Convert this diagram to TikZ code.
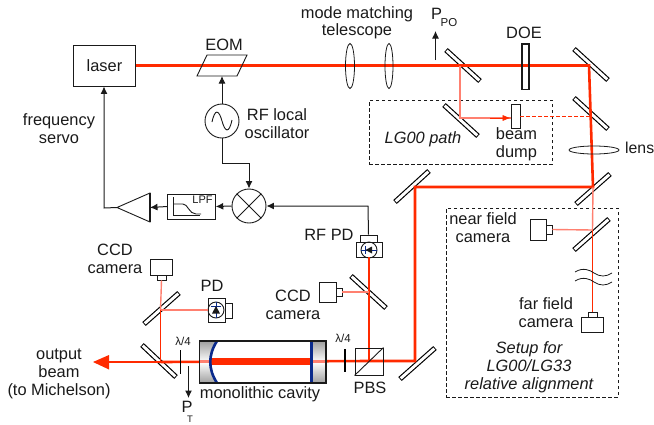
\documentclass[tikz,border=0pt]{standalone}
\usepackage{fontspec}
\setmainfont{Liberation Sans}
\usetikzlibrary{arrows.meta,shadings,shapes.geometric,calc}
\definecolor{beam}{HTML}{FF2A00}
\definecolor{pinkbeam}{HTML}{FF8070}
\definecolor{mblue}{HTML}{0A2A8C}
\definecolor{ink}{HTML}{1A1A1A}
\tikzset{
  basetxt/.style={font=\fontsize{16.4}{18}\selectfont,text=ink,align=center,inner sep=0pt},
  lbl/.style={basetxt},
  ilbl/.style={basetxt,font=\fontsize{16.4}{18}\selectfont\itshape},
  smalltxt/.style={basetxt,font=\fontsize{11.5}{13}\selectfont},
  boxn/.style={basetxt,draw=ink,line width=0.9pt,minimum width=#1},
  roundn/.style={draw=ink,line width=0.9pt,circle,inner sep=0pt,minimum size=#1},
  sig/.style={draw=ink,line width=1pt,-{Latex[length=7.5pt,width=7pt]}},
  thickbeam/.style={draw=beam,line width=2.6pt},
  thinbeam/.style={draw=pinkbeam,line width=1.4pt},
  redthin/.style={draw=beam,line width=0.9pt},
  framebox/.style={draw=ink,line width=0.9pt,dash pattern=on 3.5pt off 2.5pt},
  lensn/.style={draw=ink,line width=0.8pt},
  mirrorout/.style={draw=black,line width=5.2pt},
  mirrorin/.style={draw=white,line width=2.9pt,shorten <=0.9pt,shorten >=0.9pt},
}
\newcommand{\mirr}[4]{\draw[mirrorout] (#1,#2)--(#3,#4);\draw[mirrorin] (#1,#2)--(#3,#4);}
\begin{document}
\begin{tikzpicture}[x=1pt,y=-1pt]
\useasboundingbox (0,0) rectangle (654,424);
% dashed frames
\node[framebox,minimum width=183pt,minimum height=64pt,inner sep=0pt] (lgbox) at (460.5,132) {};
\node[framebox,minimum width=172pt,minimum height=189pt,inner sep=0pt] (setupbox) at (532,302.5) {};
% mirrors
\mirr{446}{50}{480}{81}
\mirr{574}{49}{608}{80}
\mirr{574}{98}{608}{129}
\mirr{444}{105}{478}{136}
\mirr{576}{204}{610}{174}
\mirr{395}{202}{429}{171}
\mirr{574}{250}{609}{219}
\mirr{351}{276}{386}{308}
\mirr{400}{379}{435}{348}
\mirr{142}{345}{176}{377}
\mirr{144}{324}{179}{293}
% coordinates
\coordinate (c1) at (589,65.5);
\coordinate (c2) at (593,187);
\coordinate (c3) at (415,187);
\coordinate (c4) at (415,361);
\coordinate (pick) at (460,65.5);
\coordinate (lgm) at (460,118);
\coordinate (mid) at (592,116.5);
\coordinate (nearm) at (592.5,230);
\coordinate (pdm) at (160.5,310);
\coordinate (outm) at (160.5,362);
\coordinate (pbsc) at (369,361);
\coordinate (ccdm) at (369,292);
% laser and top row
\node[boxn=62.5pt,minimum height=41pt] (laser) at (104.5,65.5) {laser};
\draw[thickbeam] (laser.east) -- (pick) -- (c1) -- (c2) -- (c3) -- (c4) -- (pbsc);
% EOM
\coordinate (eom) at (222,76);
\draw[draw=ink,line width=0.9pt] (207,55)--(247,55)--(237,76)--(197,76)--cycle;
\node[lbl] (eomt) at (224,45) {EOM};
% telescope
\node[lensn,ellipse,minimum width=9pt,minimum height=45pt,inner sep=0pt,draw] (l1) at (350,66) {};
\node[lensn,ellipse,minimum width=8pt,minimum height=45pt,inner sep=0pt,draw] (l2) at (389,66) {};
\node[lbl] (mm) at (357,23) {mode matching\\[-0.5pt]telescope};
% PPO
\coordinate (ppo1) at (435.5,60);
\coordinate (ppo2) at (435.5,31);
\draw[sig] (ppo1)--(ppo2);
\node[lbl,anchor=center] (ppot) at (436.5,14) {P};
\node[smalltxt,anchor=center] (ppos) at (449,23) {PO};
% DOE
\node[draw=ink,line width=1.5pt,minimum width=7pt,minimum height=45.5pt,inner sep=0pt] (doe) at (525.5,66.5) {};
\node[lbl] (doet) at (524,33) {DOE};
% LG00
\node[draw=ink,line width=0.8pt,fill=white,minimum width=9pt,minimum height=24pt,inner sep=0pt] (dump) at (515.5,116) {};
\draw[draw=pinkbeam,line width=1.2pt] (pick)--(lgm)--(dump.west |- lgm);
\draw[draw=beam,-{Latex[length=8pt,width=6pt]},line width=0.6pt] ($(lgm)+(30,0)$)--(dump.west |- lgm);
\draw[draw=beam,line width=0.9pt,dash pattern=on 3.5pt off 2.5pt] (dump.east |- mid)--(mid);
\node[ilbl] (lgt) at (423,139) {LG00 path};
\node[lbl] (dumpt) at (516.5,144) {beam\\dump};
% lens
\node[lensn,ellipse,draw,minimum width=50pt,minimum height=8pt,inner sep=0pt] (lens) at (594,150) {};
\node[lbl,font=\fontsize{15.8}{18}\selectfont,anchor=west] (lenst) at (625,148) {lens};
% down line to far field
\node[boxn=22.5pt,minimum height=15pt] (far) at (592.25,324.5) {};
\node[boxn=9pt,minimum height=5pt] (farnub) at (592.5,314.5) {};
\draw[thinbeam] (c2)--(nearm);
\draw[redthin] (nearm)--(farnub.north);
\node[boxn=16.5pt,minimum height=21pt] (near) at (538.25,229.5) {};
\node[boxn=5.5pt,minimum height=9pt] (nearnub) at (549.25,229.5) {};
\draw[thinbeam] (nearnub.east)--(nearm);
\draw[draw=ink,line width=0.8pt] (575,272) .. controls (583,267) and (590,270) .. (594,273) .. controls (600,277) and (606,277) .. (612,273);
\draw[draw=ink,line width=0.8pt] (575,281) .. controls (583,276) and (590,279) .. (594,282) .. controls (600,286) and (606,286) .. (612,282);
\node[lbl] (nt) at (483,228) {near field\\camera};
\node[lbl] (ft) at (546,313) {far field\\camera};
\node[ilbl] (st) at (529,367.5) {Setup for\\LG00/LG33\\relative alignment};
% electronics
\node[roundn=34pt] (osc) at (222,121) {};
\draw[draw=ink,line width=0.9pt] (212,122) .. controls (215,108) and (219,110) .. (222,121) .. controls (225,132) and (229,134) .. (232,120);
\node[roundn=34pt] (mix) at (249,206) {};
\draw[draw=ink,line width=0.9pt] (mix.45)--(mix.225) (mix.135)--(mix.315);
\node[draw=ink,line width=1pt,minimum width=47.5pt,minimum height=25pt,inner sep=0pt] (lpf) at (191.5,206.5) {};
\node[smalltxt,font=\fontsize{11}{12}\selectfont] (lpft) at (202.5,200) {LPF};
\draw[draw=ink,line width=0.9pt] (173,197)--(173,215)--(200,215);
\draw[draw=ink,line width=0.9pt] (173,204)--(183,204) .. controls (188,204) and (189,214) .. (196,214)--(201,214);
\coordinate (tip) at (117,207.5);
\coordinate (ampb) at (150,207.5);
\draw[draw=ink,line width=0.9pt] (tip)--(150,193)--(150,222)--cycle;
\draw[draw=ink,line width=1.5pt] (150,193)--(150,222);
\coordinate (fb) at (104,208);
\draw[sig] (tip)--(fb)--(laser.south -| fb);
\draw[sig] (osc.north)--(eom);
\coordinate (o1) at (222,163);
\coordinate (o2) at (249,163);
\draw[sig] (osc.south)--(o1)--(o2)--(mix.north);
\draw[sig] (mix.west)--(lpf.east);
\draw[sig] (lpf.west)--(ampb);
\node[lbl] (servot) at (59,129) {frequency\\servo};
\node[lbl] (rft) at (277,123.5) {RF local\\oscillator};
% RF PD
\node[boxn=26pt,minimum height=15pt] (rfpd) at (369,249.5) {};
\node[boxn=17pt,minimum height=7pt] (rfnub) at (368.5,238.5) {};
\node[roundn=16pt] (rfc) at (369,250) {};
\draw[draw=mblue,line width=0.7pt] (361,250)--(377,250) (365.5,246)--(365.5,254);
\fill[ink] (365.5,250)--(372,246.5)--(372,253.5)--cycle;
\coordinate (rfw) at (368,206);
\draw[sig] (rfnub.north)--(rfw)--(mix.east);
\node[lbl] (rft2) at (329,235) {RF PD};
\draw[thickbeam] (pbsc)--(rfpd.south -| pbsc);
% right CCD
\node[boxn=17pt,minimum height=20pt] (ccd1) at (327.5,292) {};
\node[boxn=6pt,minimum height=8pt] (ccd1n) at (339,292) {};
\draw[thinbeam] (ccd1n.east)--(ccdm);
\node[lbl] (ccd1t) at (293,305) {CCD\\camera};
% PBS
\draw[thickbeam] (pbsc)--(outm);
\node[draw=ink,line width=0.9pt,minimum width=28pt,minimum height=27pt,inner sep=0pt] (pbs) at (369,361.5) {};
\draw[draw=ink,line width=0.9pt] (pbs.south west)--(pbs.north east);
\node[lbl] (pbst) at (370,388) {PBS};
\coordinate (q2a) at (345,349);
\coordinate (q2b) at (345,372);
\draw[draw=black,line width=1.6pt] (q2a)--(q2b);
\node[smalltxt] (q2t) at (343,338) {λ/4};
% cavity
\shade[top color=gray!75,bottom color=gray!75,middle color=white] (199.5,341) rectangle (326,383);
\fill[white] (217,341) .. controls (208,355) and (208,369) .. (217,383) -- (311,383) -- (311,341) -- cycle;
\draw[draw=pinkbeam,line width=2.5pt] (199.5,361.5)--(326,361.5);
\draw[draw=beam,line width=7.5pt] (211,361.5)--(310,361.5);
\draw[draw=mblue,line width=2.6pt] (217,341) .. controls (208,355) and (208,369) .. (217,383);
\draw[draw=mblue,line width=3pt] (311,341)--(311,383);
\node[draw=ink,line width=1.3pt,minimum width=126.5pt,minimum height=42pt,inner sep=0pt] (cav) at (262.75,362) {};
\node[lbl] (cavt) at (260,394) {monolithic cavity};
% output side
\coordinate (outtip) at (93,362);
\draw[thickbeam] (cav.west |- outm)--(105,362);
\fill[beam] (outtip)--(109,355)--(109,369.5)--cycle;
\coordinate (q1a) at (180.5,350);
\coordinate (q1b) at (180.5,374);
\draw[draw=black,line width=1.6pt] (q1a)--(q1b);
\node[smalltxt] (q1t) at (183,341) {λ/4};
\coordinate (pt1) at (188.5,366);
\coordinate (pt2) at (188.5,398);
\draw[sig] (pt1)--(pt2);
\node[lbl] (ptt) at (187,406.5) {P};
\node[smalltxt,font=\fontsize{9.5}{10}\selectfont] (pts) at (190,419.5) {T};
\node[lbl] (outt) at (59,373.5) {output\\beam\\(to Michelson)};
% left CCD and PD
\node[boxn=22.5pt,minimum height=15.5pt] (ccd2) at (161.25,267.25) {};
\node[boxn=9pt,minimum height=5pt] (ccd2n) at (161.5,277.5) {};
\draw[thinbeam] (ccd2n.south)--(160.5,310);
\draw[redthin] (pdm)--(outm);
\node[boxn=17pt,minimum height=24pt] (pd) at (216.5,310) {};
\node[boxn=7.5pt,minimum height=15pt] (pdn) at (228.75,310.5) {};
\node[roundn=16pt] (pdc) at (216,310) {};
\draw[draw=mblue,line width=0.7pt] (216,302)--(216,318) (211,306)--(221,306);
\fill[ink] (216,306)--(212,313.5)--(220,313.5)--cycle;
\draw[thinbeam] (pdm)--(pd.west);
\node[lbl] (pdt) at (212,286) {PD};
\node[lbl] (ccd2t) at (115,259) {CCD\\camera};
\end{tikzpicture}
\end{document}
